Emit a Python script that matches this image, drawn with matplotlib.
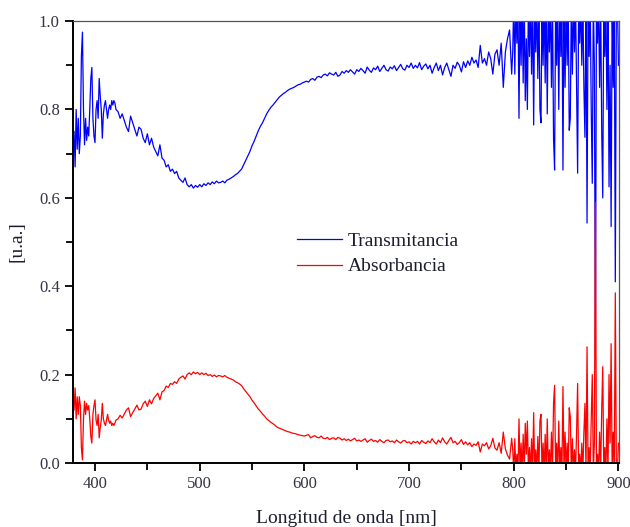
import numpy as np
import matplotlib
matplotlib.use("Agg")
import matplotlib.pyplot as plt

plt.rcParams["font.family"] = ["Liberation Serif", "DejaVu Serif"]

# Wavelength sampling: 1 nm at the noisy ends, 2 nm in between
wl_start = [380, 422, 799]
wl_step = [1, 2, 1]

# Transmitancia, 380-420 nm (1 nm)
trans_a = [0.75, 0.67, 0.80, 0.71, 0.78, 0.70, 0.74, 0.92, 0.975, 0.80,
           0.72, 0.78, 0.73, 0.76, 0.74, 0.80, 0.87, 0.895, 0.78, 0.74,
           0.725, 0.80, 0.82, 0.78, 0.87, 0.83, 0.80, 0.735, 0.79, 0.81,
           0.82, 0.80, 0.78, 0.80, 0.81, 0.80, 0.82, 0.81, 0.82, 0.815,
           0.80]
# Transmitancia, 422-798 nm (2 nm)
trans_b = [0.795, 0.78, 0.79, 0.775, 0.76, 0.75, 0.785, 0.77, 0.755, 0.74,
           0.76, 0.755, 0.735, 0.725, 0.745, 0.72, 0.735, 0.715, 0.705, 0.695,
           0.72, 0.69, 0.685, 0.67, 0.675, 0.66, 0.665, 0.655, 0.66, 0.645,
           0.64, 0.635, 0.645, 0.63, 0.625, 0.63, 0.622, 0.628, 0.624, 0.63,
           0.625, 0.632, 0.628, 0.634, 0.63, 0.636, 0.632, 0.638, 0.634, 0.635,
           0.638, 0.634, 0.64, 0.642, 0.645, 0.648, 0.652, 0.655, 0.66, 0.665,
           0.675, 0.685, 0.695, 0.705, 0.718, 0.728, 0.74, 0.752, 0.762, 0.77,
           0.78, 0.79, 0.798, 0.805, 0.81, 0.816, 0.822, 0.828, 0.832, 0.836,
           0.839, 0.843, 0.846, 0.848, 0.85, 0.853, 0.856, 0.857, 0.86, 0.862,
           0.864, 0.862, 0.868, 0.87, 0.866, 0.873, 0.875, 0.872, 0.878, 0.88,
           0.876, 0.883, 0.88, 0.878, 0.884, 0.875, 0.878, 0.886, 0.882, 0.888,
           0.884, 0.89, 0.885, 0.88, 0.89, 0.886, 0.893, 0.888, 0.882, 0.896,
           0.889, 0.884, 0.894, 0.89, 0.898, 0.886, 0.893, 0.9, 0.89, 0.887,
           0.896, 0.892, 0.899, 0.888, 0.895, 0.902, 0.892, 0.889, 0.9, 0.895,
           0.905, 0.893, 0.9, 0.894, 0.906, 0.89, 0.898, 0.903, 0.892, 0.9,
           0.882, 0.895, 0.905, 0.888, 0.9, 0.878, 0.895, 0.905, 0.89, 0.875,
           0.9, 0.893, 0.907, 0.9, 0.885, 0.908, 0.895, 0.91, 0.9, 0.918,
           0.905, 0.912, 0.895, 0.945, 0.905, 0.915, 0.9, 0.93, 0.915, 0.88,
           0.925, 0.935, 0.9, 0.95, 0.85, 0.93, 0.96, 0.98, 0.88]
# Transmitancia, 799-900 nm (1 nm)
trans_c = [0.93, 1.05, 0.88, 1.05, 0.95, 1.05, 0.78, 1.05, 0.9, 1.05,
           0.86, 1.05, 0.82, 0.96, 0.80, 1.05, 0.92, 1.05, 0.88, 1.05,
           0.765, 1.05, 0.93, 1.05, 0.87, 1.05, 0.80, 0.77, 1.05, 0.9,
           1.05, 0.86, 1.05, 0.79, 1.05, 0.93, 1.05, 0.85, 1.05, 0.735,
           0.663, 1.05, 0.9, 1.05, 0.8, 1.05, 0.92, 1.05, 0.663, 1.05,
           0.85, 1.05, 0.9, 1.05, 0.753, 0.78, 1.05, 0.88, 1.05, 0.93,
           1.05, 0.85, 0.656, 1.05, 0.95, 1.05, 0.9, 1.05, 0.85, 0.737,
           1.05, 0.543, 1.05, 0.92, 1.05, 0.8, 0.633, 1.05, 0.9, 0.256,
           1.05, 0.95, 1.05, 0.85, 1.05, 0.755, 0.60, 1.05, 0.92, 1.05,
           0.8, 1.05, 0.625, 0.9, 0.535, 1.05, 0.85, 1.05, 0.41, 1.05,
           1.05, 0.9]

# Absorbancia, same sampling
absor_a = [0.12, 0.17, 0.10, 0.15, 0.11, 0.15, 0.13, 0.035, 0.007, 0.10,
           0.14, 0.11, 0.135, 0.12, 0.13, 0.10, 0.06, 0.045, 0.11, 0.13,
           0.143, 0.097, 0.085, 0.11, 0.057, 0.08, 0.097, 0.135, 0.10, 0.09,
           0.085, 0.097, 0.11, 0.097, 0.09, 0.095, 0.085, 0.09, 0.085, 0.09,
           0.097]
absor_b = [0.10, 0.108, 0.102, 0.111, 0.12, 0.125, 0.105, 0.114, 0.122, 0.131,
           0.12, 0.122, 0.134, 0.14, 0.128, 0.143, 0.134, 0.146, 0.152, 0.158,
           0.143, 0.161, 0.164, 0.174, 0.171, 0.18, 0.178, 0.184, 0.18, 0.19,
           0.194, 0.197, 0.19, 0.2, 0.204, 0.2, 0.206, 0.202, 0.205, 0.2,
           0.204, 0.2, 0.203, 0.198, 0.2, 0.196, 0.199, 0.195, 0.198, 0.197,
           0.195, 0.198, 0.194, 0.192, 0.19, 0.188, 0.184, 0.182, 0.179, 0.175,
           0.168, 0.162, 0.156, 0.15, 0.142, 0.136, 0.129, 0.122, 0.117, 0.111,
           0.106, 0.1, 0.096, 0.092, 0.089, 0.085, 0.081, 0.079, 0.077, 0.075,
           0.073, 0.071, 0.07, 0.068, 0.067, 0.066, 0.064, 0.063, 0.062, 0.061,
           0.063, 0.064, 0.057, 0.06, 0.062, 0.058, 0.057, 0.061, 0.056, 0.055,
           0.058, 0.053, 0.056, 0.057, 0.053, 0.058, 0.056, 0.052, 0.055, 0.051,
           0.054, 0.05, 0.053, 0.056, 0.05, 0.052, 0.049, 0.052, 0.055, 0.047,
           0.051, 0.054, 0.049, 0.051, 0.047, 0.053, 0.049, 0.046, 0.051, 0.052,
           0.048, 0.05, 0.046, 0.052, 0.048, 0.045, 0.05, 0.051, 0.046, 0.048,
           0.043, 0.049, 0.046, 0.049, 0.043, 0.051, 0.047, 0.044, 0.05, 0.046,
           0.055, 0.048, 0.043, 0.052, 0.046, 0.057, 0.048, 0.043, 0.051, 0.058,
           0.046, 0.049, 0.042, 0.046, 0.053, 0.042, 0.048, 0.041, 0.046, 0.037,
           0.043, 0.04, 0.048, 0.025, 0.043, 0.039, 0.046, 0.032, 0.039, 0.056,
           0.034, 0.029, 0.046, 0.022, 0.07, 0.032, 0.018, 0.009, 0.056]
absor_c = [0.03, -0.02, 0.055, -0.02, 0.02, -0.02, 0.10, -0.02, 0.045, -0.02,
           0.065, -0.02, 0.09, 0.02, 0.095, -0.02, 0.035, -0.02, 0.055, -0.02,
           0.114, -0.02, 0.03, -0.02, 0.06, -0.02, 0.095, 0.11, -0.02, 0.045,
           -0.02, 0.065, -0.02, 0.10, -0.02, 0.03, -0.02, 0.07, -0.02, 0.135,
           0.176, -0.02, 0.045, -0.02, 0.095, -0.02, 0.035, -0.02, 0.173, -0.02,
           0.07, -0.02, 0.045, -0.02, 0.125, 0.105, -0.02, 0.055, -0.02, 0.03,
           -0.02, 0.07, 0.18, -0.02, 0.02, -0.02, 0.045, -0.02, 0.07, 0.135,
           -0.02, 0.263, -0.02, 0.035, -0.02, 0.1, 0.2, -0.02, 0.045, 0.59,
           -0.02, 0.02, -0.02, 0.07, -0.02, 0.12, 0.218, -0.02, 0.035, -0.02,
           0.1, -0.02, 0.2, 0.045, 0.27, -0.02, 0.07, -0.02, 0.385, -0.02,
           -0.02, 0.045]


def build_wl(parts):
    return np.concatenate([s + d * np.arange(len(p))
                           for s, d, p in zip(wl_start, wl_step, parts)])


trans_parts = [trans_a, trans_b, trans_c]
absor_parts = [absor_a, absor_b, absor_c]
wl_t = build_wl(trans_parts)
wl_a = build_wl(absor_parts)
trans = np.concatenate(trans_parts)
absor = np.concatenate(absor_parts)

text_color = "#1c1c30"

fig = plt.figure(figsize=(6.3, 5.27), dpi=100)
ax = fig.add_axes([0.1159, 0.1214, 0.8666, 0.8386])

ax.plot(wl_t, trans, color="#0000ff", lw=0.9, label="Transmitancia")
ax.plot(wl_a, absor, color="#ff0000", lw=0.9, label="Absorbancia")

ax.set_xlim(379, 900.5)
ax.set_ylim(0, 1.0)
ax.set_xticks(np.arange(400, 901, 100))
ax.set_xticks(np.arange(450, 900, 100), minor=True)
ax.set_yticks(np.arange(0, 1.01, 0.2))
ax.set_yticks(np.arange(0.1, 1.0, 0.2), minor=True)
ax.yaxis.set_major_formatter(matplotlib.ticker.FormatStrFormatter("%.1f"))

ax.tick_params(which="major", direction="out", length=6, width=1.3,
               labelsize=12, labelcolor="#333344", top=False, right=False)
ax.tick_params(which="minor", direction="out", length=5, width=1.3,
               top=False, right=False)

for side in ["left", "bottom"]:
    ax.spines[side].set_linewidth(1.4)
    ax.spines[side].set_color("black")
for side in ["top", "right"]:
    ax.spines[side].set_linewidth(0.9)
    ax.spines[side].set_color("#555555")

ax.set_xlabel("Longitud de onda [nm]", fontsize=14, color=text_color, labelpad=13)
ax.set_ylabel("[u.a.]", fontsize=14, color=text_color, labelpad=10)

ax.legend(loc="upper left", bbox_to_anchor=(0.41, 0.522), frameon=False,
          fontsize=14, handlelength=2.3, handletextpad=0.3, labelspacing=0.4,
          borderpad=0, borderaxespad=0, labelcolor=text_color)

fig.savefig("out.png", dpi=100)
